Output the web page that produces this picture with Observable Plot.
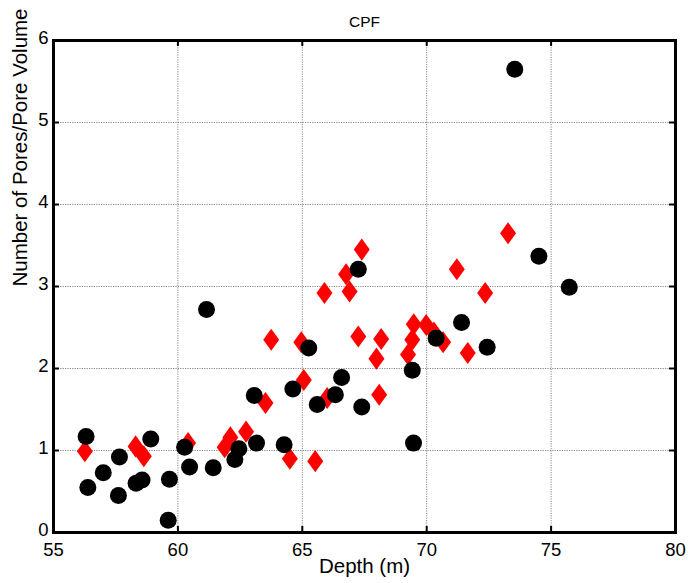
<!DOCTYPE html>
<html>
<head>
<meta charset="utf-8">
<script src="https://cdn.jsdelivr.net/npm/d3@7"></script>
<script src="https://cdn.jsdelivr.net/npm/@observablehq/plot@0.6"></script>
<style>
  html, body { margin: 0; padding: 0; background: #fff; }
  #chart svg { display: block; }
</style>
</head>
<body>
<div id="chart"></div>
<script>
// ---- Data ----
const title = "CPF";
const xLabel = "Depth (m)";
const yLabel = "Number of Pores/Pore Volume";
const xDomain = [55, 80];
const yDomain = [0, 6];
const xTicks = [55, 60, 65, 70, 75, 80];
const yTicks = [0, 1, 2, 3, 4, 5, 6];

// Black circles series
const circleDepth = [56.31, 56.38, 57.0, 57.65, 57.61, 58.32, 58.56, 58.91, 59.66, 59.61,
  60.27, 60.47, 61.15, 61.42, 62.29, 62.45, 63.07, 63.16, 64.27, 64.62,
  67.25, 65.26, 65.60, 66.58, 66.33, 67.39, 69.42, 69.47, 70.38, 71.40,
  72.43, 73.54, 74.51, 75.73];
const circleValue = [1.17, 0.55, 0.73, 0.92, 0.45, 0.60, 0.64, 1.14, 0.65, 0.15,
  1.04, 0.80, 2.72, 0.79, 0.89, 1.02, 1.67, 1.09, 1.07, 1.75,
  3.21, 2.25, 1.56, 1.89, 1.68, 1.53, 1.98, 1.09, 2.37, 2.56,
  2.26, 5.65, 3.37, 2.99];

// Red diamonds series
const diamondDepth = [56.26, 58.30, 58.63, 60.41, 61.88, 62.11, 62.74, 63.52, 63.75, 64.50,
  64.96, 65.06, 65.52, 66.00, 65.89, 67.39, 66.76, 66.90, 67.25, 68.17,
  67.98, 68.09, 69.48, 69.42, 69.25, 69.98, 70.29, 70.66, 71.21, 72.35,
  71.65, 73.27];
const diamondValue = [0.99, 1.05, 0.93, 1.09, 1.04, 1.16, 1.23, 1.58, 2.35, 0.90,
  2.32, 1.86, 0.87, 1.64, 2.92, 3.45, 3.15, 2.94, 2.39, 2.36,
  2.12, 1.68, 2.54, 2.35, 2.17, 2.53, 2.44, 2.32, 3.21, 2.92,
  2.19, 3.65];

const circles = circleDepth.map((d, i) => ({depth: d, value: circleValue[i]}));
const diamonds = diamondDepth.map((d, i) => ({depth: d, value: diamondValue[i]}));

// Tall diamond symbol (MATLAB 'd' marker look)
const tallDiamond = {
  draw(context, size) {
    const r = Math.sqrt(size / Math.PI);
    const w = r, h = r * 1.38;
    context.moveTo(0, -h);
    context.lineTo(w, 0);
    context.lineTo(0, h);
    context.lineTo(-w, 0);
    context.closePath();
  }
};

const font = "'Liberation Sans', Arial, Helvetica, sans-serif";
const tickLen = 6;

const chart = Plot.plot({
  width: 688,
  height: 583,
  marginTop: 40,
  marginRight: 13,
  marginBottom: 51,
  marginLeft: 53,
  style: {fontFamily: font, background: "#fff", color: "#000"},
  x: {domain: xDomain, ticks: xTicks},
  y: {domain: yDomain, ticks: yTicks},
  marks: [
    Plot.gridX(xTicks.slice(1, -1), {stroke: "#888", strokeOpacity: 1, strokeWidth: 1, strokeDasharray: "1.2,1.2"}),
    Plot.gridY(yTicks.slice(1, -1), {stroke: "#888", strokeOpacity: 1, strokeWidth: 1, strokeDasharray: "1.2,1.2"}),
    // inward ticks on all four sides
    Plot.ruleX(xTicks, {x: d => d, y1: yDomain[0], y2: yDomain[0], insetTop: -tickLen, stroke: "#000", strokeWidth: 2}),
    Plot.ruleX(xTicks, {x: d => d, y1: yDomain[1], y2: yDomain[1], insetBottom: -tickLen, stroke: "#000", strokeWidth: 2}),
    Plot.ruleY(yTicks, {y: d => d, x1: xDomain[0], x2: xDomain[0], insetRight: -tickLen, stroke: "#000", strokeWidth: 2}),
    Plot.ruleY(yTicks, {y: d => d, x1: xDomain[1], x2: xDomain[1], insetLeft: -tickLen, stroke: "#000", strokeWidth: 2}),
    Plot.axisX(xTicks, {tickSize: 0, tickPadding: 10, label: null, fontSize: 18.5, fill: "#000", tickFormat: d3.format("d")}),
    Plot.axisY(yTicks, {tickSize: 0, tickPadding: 5, dy: -2, label: null, fontSize: 18.5, fill: "#000", tickFormat: d3.format("d")}),
    Plot.dot(diamonds, {x: "depth", y: "value", symbol: tallDiamond, r: 8, fill: "#ff0000", stroke: "none"}),
    Plot.dot(circles, {x: "depth", y: "value", symbol: "circle", r: 8.5, fill: "#000", stroke: "none"}),
    Plot.frame({stroke: "#000", strokeWidth: 3}),
    Plot.text([title], {frameAnchor: "top", dy: -25, fontSize: 15.5, fill: "#000"}),
    Plot.text([xLabel], {frameAnchor: "bottom", dy: 40, fontSize: 20.5, fill: "#000"}),
    Plot.text([yLabel], {frameAnchor: "left", dx: -33, rotate: -90, fontSize: 20.5, fill: "#000"})
  ]
});

document.getElementById("chart").appendChild(chart);
</script>
</body>
</html>
